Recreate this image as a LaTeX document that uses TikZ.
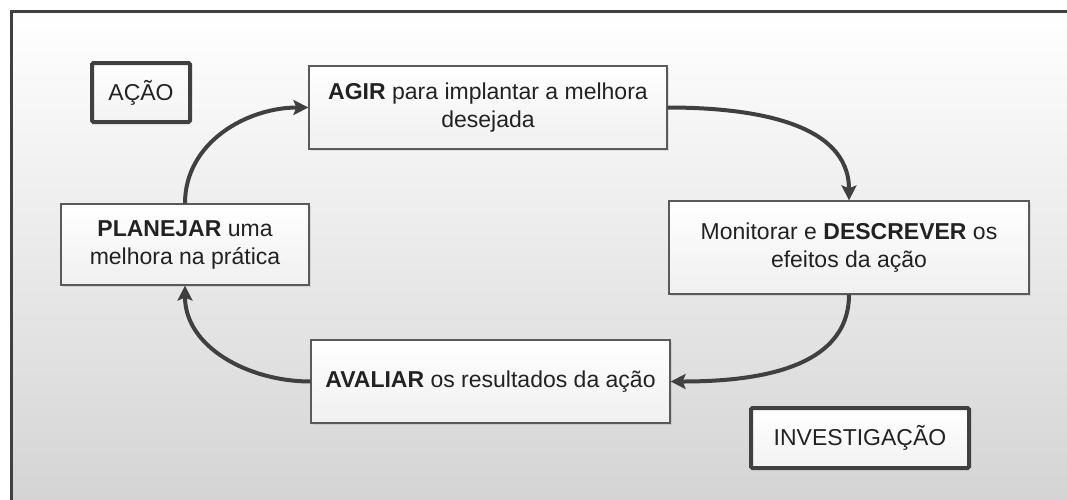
\documentclass[tikz,border=0pt]{standalone}
\usepackage{fontspec}
\setmainfont{Liberation Sans}
\usetikzlibrary{arrows.meta,shadows}
\definecolor{traco}{HTML}{404040}
\definecolor{borda}{HTML}{5A5A5A}
\definecolor{fundo}{HTML}{D3D3D3}
\definecolor{letra}{HTML}{222222}
\tikzset{
  etapa/.style={draw=borda, line width=1.2pt, top color=white, bottom color=gray!12,
    align=center, inner sep=0pt, text=letra, font=\fontsize{23}{28}\selectfont,
    drop shadow={opacity=.2, shadow xshift=2pt, shadow yshift=-2pt}},
  rotulo/.style={draw=traco, line width=4pt, rounded corners=1.5pt, top color=white,
    bottom color=gray!10, inner sep=0pt, text=letra, font=\fontsize{23}{28}\selectfont},
  seta/.style={draw=traco, line width=4pt, -{Stealth[length=15pt,width=15pt,inset=3pt]}}
}
\newcommand{\etapa}[5]{\node[etapa, minimum width=#2, minimum height=#3] (#1) at (#4) {#5}}
\newcommand{\seta}[4]{\draw[seta] (#1) to[out=#2,in=#3] (#4)}

\begin{document}
\begin{tikzpicture}[x=1pt,y=1pt]
	\clip (0,0) rectangle (1067,-499);
	\shade[top color=white, bottom color=fundo, draw=traco, line width=3pt]
		(11.5,-11.5) rectangle (1085,-515);
	\node[rotulo, minimum width=98pt, minimum height=59pt] (acao) at (141,-92.5) {AÇÃO};
	\node[rotulo, minimum width=218pt, minimum height=60pt] (invest) at (860,-438) {INVESTIGAÇÃO};
	\etapa{agir}{358pt}{83pt}{488,-107.5}{\textbf{AGIR} para implantar a melhora\\desejada};
	\etapa{monitor}{360pt}{93pt}{849,-247.5}{Monitorar e \textbf{DESCREVER} os\\efeitos da ação};
	\etapa{planejar}{248pt}{81pt}{185,-244.5}{\textbf{PLANEJAR} uma\\melhora na prática};
	\etapa{avaliar}{359pt}{83pt}{490.5,-381.5}{\textbf{AVALIAR} os resultados da ação};
	\seta{planejar.north}{90}{180}{agir.west};
	\seta{agir.east}{0}{90}{monitor.north};
	\seta{monitor.south}{-90}{0}{avaliar.east};
	\seta{avaliar.west}{180}{-90}{planejar.south};
\end{tikzpicture}
\end{document}
